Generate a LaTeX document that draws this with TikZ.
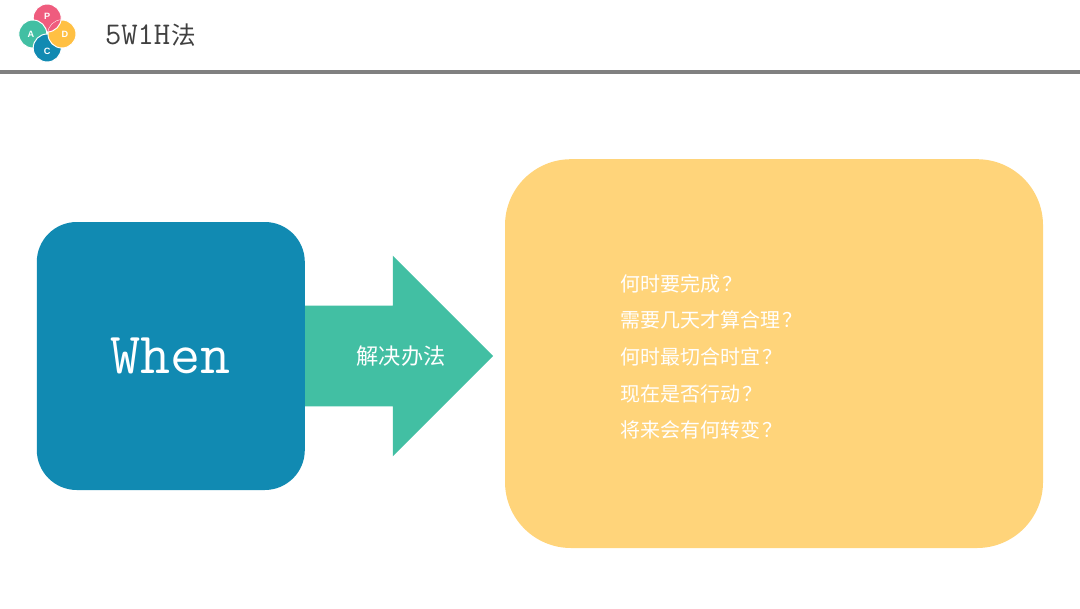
\documentclass[tikz,border=0pt]{standalone}
\usepackage{fontspec}
\setmainfont{Liberation Serif}
\setsansfont{Liberation Sans}
\newfontfamily\cjk{Noto Sans CJK SC}
\usepackage{xcolor}
\usetikzlibrary{shapes.arrows, positioning}
\definecolor{teal}{HTML}{42BFA3}
\definecolor{ocean}{HTML}{118AB2}
\definecolor{sand}{HTML}{FFD47A}
\definecolor{rose}{HTML}{EF5C7E}
\definecolor{amber}{HTML}{FFC043}
\definecolor{rule}{HTML}{808080}
\newcommand{\qmark}{\kern2pt？}

\begin{document}
\begin{tikzpicture}[
    every node/.style={inner sep=0pt},
    squarebox/.style={fill=ocean, minimum width=6.7cm, minimum height=6.7cm,
                      rounded corners=1cm},
    answerbox/.style={fill=sand, minimum width=13.45cm, minimum height=9.72cm,
                      rounded corners=1.65cm},
    bigarrow/.style={shape=single arrow, fill=teal, minimum height=4.72cm, minimum width=5cm,
                     inner xsep=0pt, inner ysep=1.25cm,
                     single arrow head extend=1.25cm, single arrow head indent=0pt},
    petal/.style={circle, draw=white, line width=0.7pt, minimum size=0.7cm},
    petaltxt/.style={font=\sffamily\bfseries\fontsize{6.5}{6.5}\selectfont, text=white},
    whitetxt/.style={text=white}
]
    \useasboundingbox (0, 0) rectangle (27, 15.2);

    % Header
    \fill[rule] (0, 13.35) rectangle (27, 13.45);
    \node[petal, fill=rose]  (pp) at (1.18, 14.75) {};
    \node[petal, fill=teal]  (pa) at (0.82, 14.35) {};
    \node[petal, fill=ocean] (pc) at (1.18, 14) {};
    \node[petal, fill=amber] (pd) at (1.55, 14.35) {};
    \begin{scope}
        \clip (pd.center) circle (0.35);
        \node[petal, fill=rose] (pp2) at (1.18, 14.75) {};
    \end{scope}
    \node[petaltxt] (lp) at (1.18, 14.78) {P};
    \node[petaltxt] (la) at (0.77, 14.35) {A};
    \node[petaltxt] (lc) at (1.18, 13.92) {C};
    \node[petaltxt] (ld) at (1.62, 14.33) {D};
    \node[anchor=west, text=black!75] (title) at (2.62, 14.33)
        {\ttfamily\fontsize{22.5}{22.5}\selectfont 5W1H\cjk\fontsize{17.5}{17.5}\selectfont\kern1pt 法};

    % Main blocks
    \node[answerbox] (answer) at (19.35, 6.36) {};
    \node[bigarrow] (arrow) at (9.34, 6.3) {};
    \node[squarebox, whitetxt, font=\ttfamily\fontsize{41.5}{41.5}\selectfont] (when) at (4.27, 6.3) {When};
    \node[whitetxt, font=\cjk\fontsize{15.8}{16}\selectfont] (how) at (10.03, 6.3) {解决办法};

    % Questions
    \node[whitetxt, anchor=west, align=left, font=\cjk\fontsize{14.2}{26}\selectfont] (qlist) at (15.5, 6.28)
        {何时要完成\qmark\\需要几天才算合理\qmark\\何时最切合时宜\qmark\\现在是否行动\qmark\\将来会有何转变\qmark};
\end{tikzpicture}
\end{document}
